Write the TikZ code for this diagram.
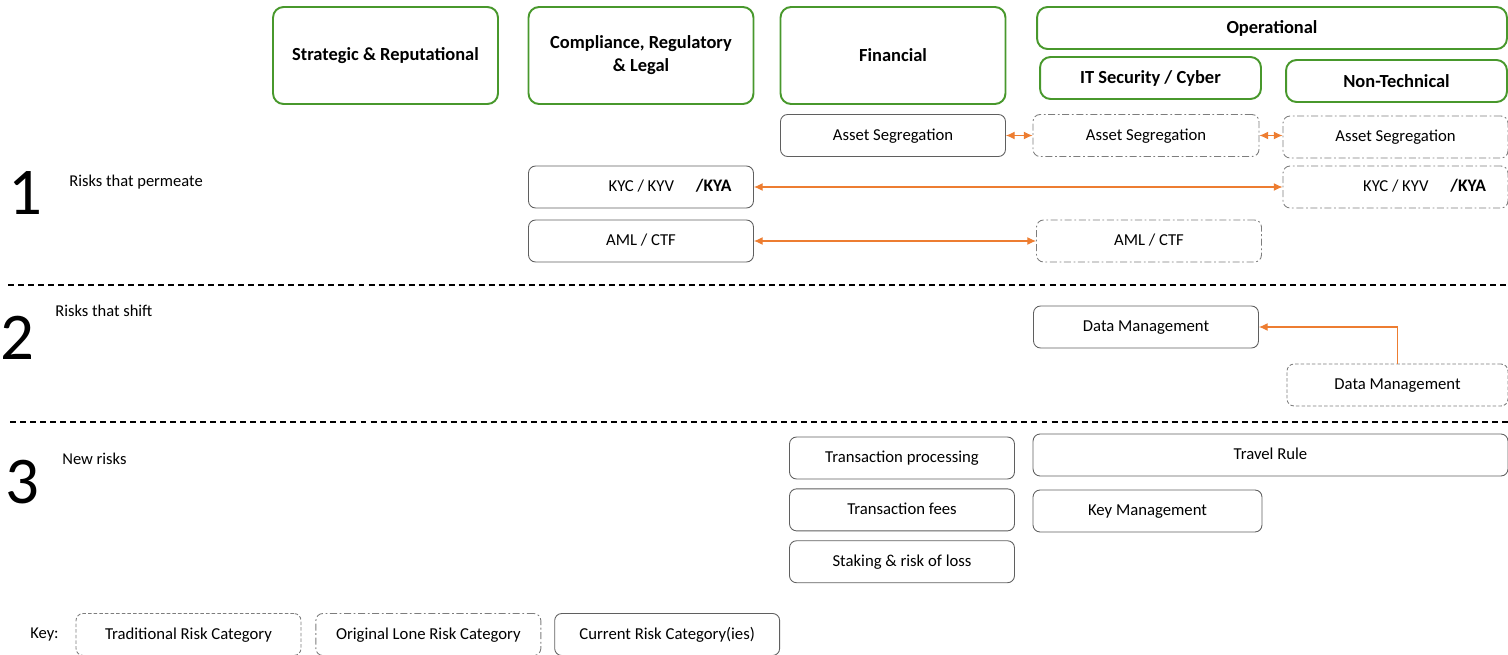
\documentclass[tikz,border=0pt]{standalone}
\usepackage{fontspec}
\setmainfont{Carlito}
\usepackage{tikz}
\usetikzlibrary{positioning, arrows.meta}
\definecolor{hdrgreen}{RGB}{72,152,44}
\definecolor{boxgray}{RGB}{95,95,95}
\definecolor{dashgray}{RGB}{125,125,125}
\definecolor{linkorange}{RGB}{237,125,49}

\begin{document}
\begin{tikzpicture}[x=0.02cm, y=-0.02cm, >={Latex[length=5pt,width=4.5pt]},
  header/.style={draw=hdrgreen, line width=1.1pt, rounded corners=6pt, minimum width=4.5cm, minimum height=1.94cm, align=center, font=\fontsize{10.5}{13}\selectfont\bfseries},
  subheader/.style={header, minimum height=0.84cm},
  current/.style={draw=boxgray, line width=0.5pt, rounded corners=4pt, minimum width=4.5cm, minimum height=0.84cm, align=center, text height=1.5ex, text depth=0.4ex, font=\fontsize{9.5}{11}\selectfont},
  tradbox/.style={current, draw=dashgray, dash pattern=on 2pt off 1.2pt},
  lonebox/.style={current, draw=dashgray, dash pattern=on 4pt off 1.5pt on 1pt off 1.5pt},
  link/.style={draw=linkorange, line width=0.6pt},
  rowno/.style={font=\fontsize{38}{40}\selectfont, inner sep=0pt},
  rowtag/.style={font=\fontsize{9.4}{11}\selectfont, anchor=west, inner sep=0pt},
  divider/.style={dash pattern=on 3.4pt off 2.3pt, line width=0.6pt}]
  \useasboundingbox (0,0) rectangle (1508,655);

  % column headers
  \node[header] (strat) at (385.5,55.5) {Strategic \& Reputational};
  \node[header] (comp) at (641,55.5) {Compliance, Regulatory\\\& Legal};
  \node[header] (fin) at (893,55.5) {Financial};
  \node[subheader, minimum width=9.4cm] (ops) at (1272,28) {Operational};
  \node[subheader, minimum width=4.42cm] (itsec) at (1150.5,78) {IT Security / Cyber};
  \node[subheader, minimum width=4.42cm] (nontech) at (1396.5,81) {Non-Technical};

  % row labels
  \node[rowno] (one) at (25,193) {1};
  \node[rowtag] (tag1) at (69,182) {Risks that permeate};
  \node[rowno] (two) at (17,338) {2};
  \node[rowtag] (tag2) at (55,311) {Risks that shift};
  \node[rowno] (three) at (22,482) {3};
  \node[rowtag] (tag3) at (62,459) {New risks};

  \coordinate (div1l) at (8,285); \coordinate (div1r) at (1508,285);
  \coordinate (div2l) at (10,422); \coordinate (div2r) at (1508,422);
  \draw[divider] (div1l) -- (div1r);
  \draw[divider] (div2l) -- (div2r);

  % 1: risks that permeate
  \node[current] (finseg) at (893,135.5) {Asset Segregation};
  \node[lonebox, minimum width=4.52cm] (itseg) at (1146,135.5) {Asset Segregation};
  \node[lonebox] (ntseg) at (1395.5,137) {Asset Segregation};
  \node[current] (compkyc) at (641,187) {\hspace*{33pt}KYC / KYV\hspace{12.5pt}{\bfseries\fontsize{10}{11}\selectfont/KYA}};
  \node[lonebox] (ntkyc) at (1395.5,187) {\hspace*{33pt}KYC / KYV\hspace{12.5pt}{\bfseries\fontsize{10}{11}\selectfont/KYA}};
  \node[current] (compaml) at (641,241) {AML / CTF};
  \node[lonebox] (itaml) at (1149,241) {AML / CTF};

  \draw[link, <->] (finseg) -- (itseg);
  \draw[link, <->] (itseg.east) -- (itseg.east -| ntseg.west);
  \draw[link, <->] (compkyc) -- (ntkyc);
  \draw[link, <->] (compaml) -- (itaml);

  % 2: risks that shift
  \node[current] (itdata) at (1146,327) {Data Management};
  \node[tradbox, minimum width=4.42cm] (ntdata) at (1397.5,385) {Data Management};
  \draw[link, ->] (ntdata.north) |- (itdata.east);

  % 3: new risks
  \node[current] (txproc) at (902,458) {Transaction processing};
  \node[current, below=0.18cm of txproc] (txfees) {Transaction fees};
  \node[current, below=0.18cm of txfees] (staking) {Staking \& risk of loss};
  \node[current, minimum width=9.5cm] (travel) at (1270.5,455) {Travel Rule};
  \node[current, minimum width=4.58cm] (keymgmt) at (1147.5,511) {Key Management};

  % key
  \node[rowtag] (keylbl) at (30,635) {Key:};
  \node[tradbox] (keytrad) at (188.5,634.5) {Traditional Risk Category};
  \node[lonebox, right=0.28cm of keytrad] (keylone) {Original Lone Risk Category};
  \node[current, right=0.26cm of keylone] (keycur) {Current Risk Category(ies)};
\end{tikzpicture}
\end{document}
